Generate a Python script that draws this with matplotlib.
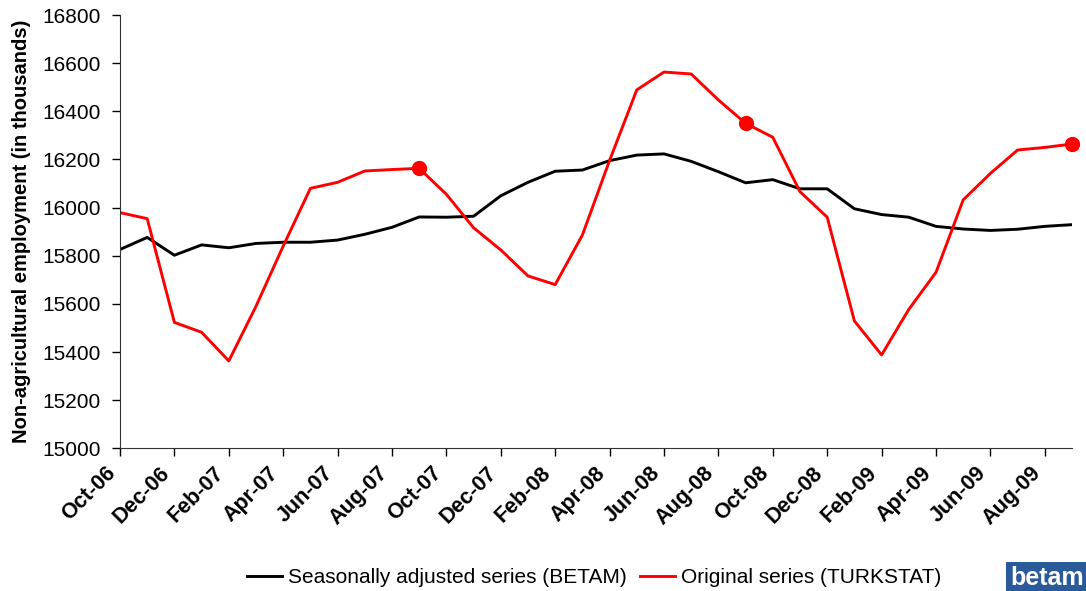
import matplotlib
matplotlib.use("Agg")
import matplotlib.pyplot as plt

plt.rcParams['font.family'] = ['Liberation Sans', 'DejaVu Sans']

months = ['Oct-06', 'Nov-06', 'Dec-06', 'Jan-07', 'Feb-07', 'Mar-07', 'Apr-07', 'May-07', 'Jun-07',
          'Jul-07', 'Aug-07', 'Sep-07', 'Oct-07', 'Nov-07', 'Dec-07', 'Jan-08', 'Feb-08', 'Mar-08',
          'Apr-08', 'May-08', 'Jun-08', 'Jul-08', 'Aug-08', 'Sep-08', 'Oct-08', 'Nov-08', 'Dec-08',
          'Jan-09', 'Feb-09', 'Mar-09', 'Apr-09', 'May-09', 'Jun-09', 'Jul-09', 'Aug-09', 'Sep-09']

# seasonally adjusted (BETAM)
betam = [15826, 15876, 15802, 15845, 15833, 15851, 15856, 15856, 15865, 15889, 15918, 15961,
         15960, 15964, 16049, 16105, 16151, 16156, 16195, 16218, 16223, 16192, 16149, 16103,
         16116, 16078, 16078, 15995, 15971, 15960, 15922, 15911, 15905, 15910, 15922, 15929]

# original series (TURKSTAT)
turkstat = [15979, 15954, 15523, 15482, 15363, 15590, 15840, 16080, 16105, 16152, 16158, 16163,
            16055, 15916, 15824, 15716, 15680, 15886, 16196, 16489, 16563, 16555, 16447, 16350,
            16292, 16066, 15960, 15529, 15388, 15577, 15731, 16032, 16142, 16239, 16250, 16264]

# September points get a marker
marked = [11, 23, 35]

x = list(range(len(months)))

fig = plt.figure(figsize=(10.86, 5.91), dpi=100)
ax = fig.add_axes([120/1086, 1-448.3/591, (1072-120)/1086, (448.3-15)/591])

ax.plot(x, betam, color='black', lw=2.1, label='Seasonally adjusted series (BETAM)')
ax.plot(x, turkstat, color='#ff0000', lw=2.1, label='Original series (TURKSTAT)')
ax.plot([x[i] for i in marked], [turkstat[i] for i in marked], 'o', color='#ff0000', ms=10,
        clip_on=False, zorder=5)

ax.set_xlim(0, len(months) - 1)
ax.set_ylim(15000, 16800)
ax.set_yticks(range(15000, 16801, 200))
ax.set_xticks(x[::2])
ax.set_xticklabels(months[::2], rotation=45, ha='right', va='bottom', rotation_mode='anchor',
                   fontsize=15.5, fontweight='bold')
ax.tick_params(axis='y', labelsize=15, direction='out', length=6, width=1, pad=8)
ax.tick_params(axis='x', direction='out', length=6, width=1, pad=15)
for s in ['top', 'right']:
    ax.spines[s].set_visible(False)
for s in ['left', 'bottom']:
    ax.spines[s].set_color('#333333')
ax.set_ylabel('Non-agricultural employment (in thousands)', fontsize=14.5, fontweight='bold', labelpad=8)

fig.legend(loc='center', bbox_to_anchor=(0.547, 0.022), ncol=2, frameon=False, fontsize=15,
           handlelength=1.7, handletextpad=0.3, columnspacing=0.6)

fig.text(0.998, 0.002, 'betam', ha='right', va='bottom', fontsize=18, fontweight='bold', color='white',
         bbox=dict(boxstyle='square,pad=0.15', facecolor='#2a5a9a', edgecolor='none'))

fig.savefig('out.png', dpi=100)
